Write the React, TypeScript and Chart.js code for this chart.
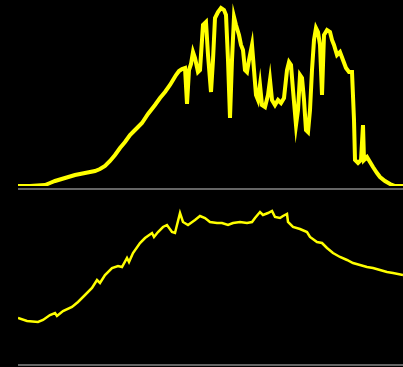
import React, { useEffect, useRef } from "react";
import { Chart, registerables } from "chart.js";

Chart.register(...registerables);

// Upper trace: sample position and level
const topX = [0,12,27,32,37,47,57,67,77,82,87,92,97,102,107,112,117,120,124,130,137,142,147,152,155,158,161,164,167,169,171,173,175,177,180,182,185,188,190,193,195,197,200,203,206,208,210,212,214,216,218,221,223,225,227,229,231,234,236,238,240,242,244,247,250,252,254,257,260,263,266,269,271,273,275,278,280,282,284,286,288,290,292,294,296,298,300,302,304,306,309,312,314,316,319,322,325,328,331,334,336,337,340,343,345,346,349,352,355,359,362,367,372,377,385];
const topV = [0,0,1,3,5,8,11,13,15,17,20,25,31,38,44,51,56,59,63,72,81,88,94,101,106,111,115,117,118,82,116,122,134,128,114,116,161,164,131,94,126,168,174,178,176,171,126,68,126,169,161,151,141,136,116,114,126,141,116,91,86,101,81,79,91,106,86,81,86,83,88,116,124,121,96,61,76,111,108,86,56,54,76,116,146,158,154,141,91,151,156,154,146,141,131,134,126,118,114,114,66,26,23,26,61,26,29,24,19,13,9,5,2,0,0];

// Lower trace: sample position and level
const bottomX = [0,9,20,25,32,37,39,45,54,60,67,74,79,82,87,94,100,104,109,111,115,122,127,134,136,140,145,149,154,157,162,165,170,177,182,187,192,199,204,210,215,222,229,234,237,242,245,250,254,257,262,265,269,270,275,282,289,292,299,304,309,315,322,329,335,342,349,355,362,369,375,385];
const bottomV = [47,44,43,45,50,52,49,54,58,63,70,77,85,82,90,97,99,98,107,103,112,122,127,132,128,133,138,140,133,132,152,143,140,145,149,147,143,142,142,140,142,143,142,143,147,153,150,152,154,148,147,149,151,143,138,136,133,128,123,122,117,112,108,105,102,100,98,97,95,93,92,90];

const YELLOW = "#ffff00";
const GRAY = "#656565";

function baseline(y: number, h: number) {
  return {
    id: "baseline",
    beforeDatasetsDraw(chart: any) {
      const ctx = chart.ctx;
      ctx.save();
      ctx.fillStyle = GRAY;
      ctx.fillRect(chart.chartArea.left, y, chart.width - chart.chartArea.left, h);
      ctx.restore();
    },
  };
}

function makeChart(
  canvas: HTMLCanvasElement,
  xs: number[],
  vs: number[],
  yMax: number,
  width: number,
  padBottom: number,
  lineY: number
) {
  return new Chart(canvas, {
    type: "line",
    data: {
      datasets: [
        {
          data: xs.map((x, i) => ({ x, y: vs[i] })),
          borderColor: YELLOW,
          borderWidth: width,
          pointRadius: 0,
          tension: 0,
          fill: false,
        },
      ],
    },
    options: {
      animation: false,
      responsive: false,
      devicePixelRatio: 1,
      layout: { padding: { left: 18, right: 0, top: 0, bottom: padBottom } },
      plugins: { legend: { display: false }, tooltip: { enabled: false } },
      scales: {
        x: { type: "linear", display: false, min: 0, max: 385 },
        y: { display: false, min: 0, max: yMax },
      },
    },
    plugins: [baseline(lineY, 2)],
  });
}

export default function App() {
  const topRef = useRef<HTMLCanvasElement>(null);
  const botRef = useRef<HTMLCanvasElement>(null);

  useEffect(() => {
    const c1 = makeChart(topRef.current!, topX, topV, 186, 4, 4, 188);
    const c2 = makeChart(botRef.current!, bottomX, bottomV, 175, 2.5, 2, 174);
    return () => {
      c1.destroy();
      c2.destroy();
    };
  }, []);

  return (
    <div
      style={{
        position: "fixed",
        left: 0,
        top: 0,
        width: 403,
        height: 367,
        background: "#000",
        overflow: "hidden",
      }}
    >
      <canvas ref={topRef} width={403} height={190} style={{ display: "block" }} />
      <canvas ref={botRef} width={403} height={177} style={{ display: "block" }} />
    </div>
  );
}
